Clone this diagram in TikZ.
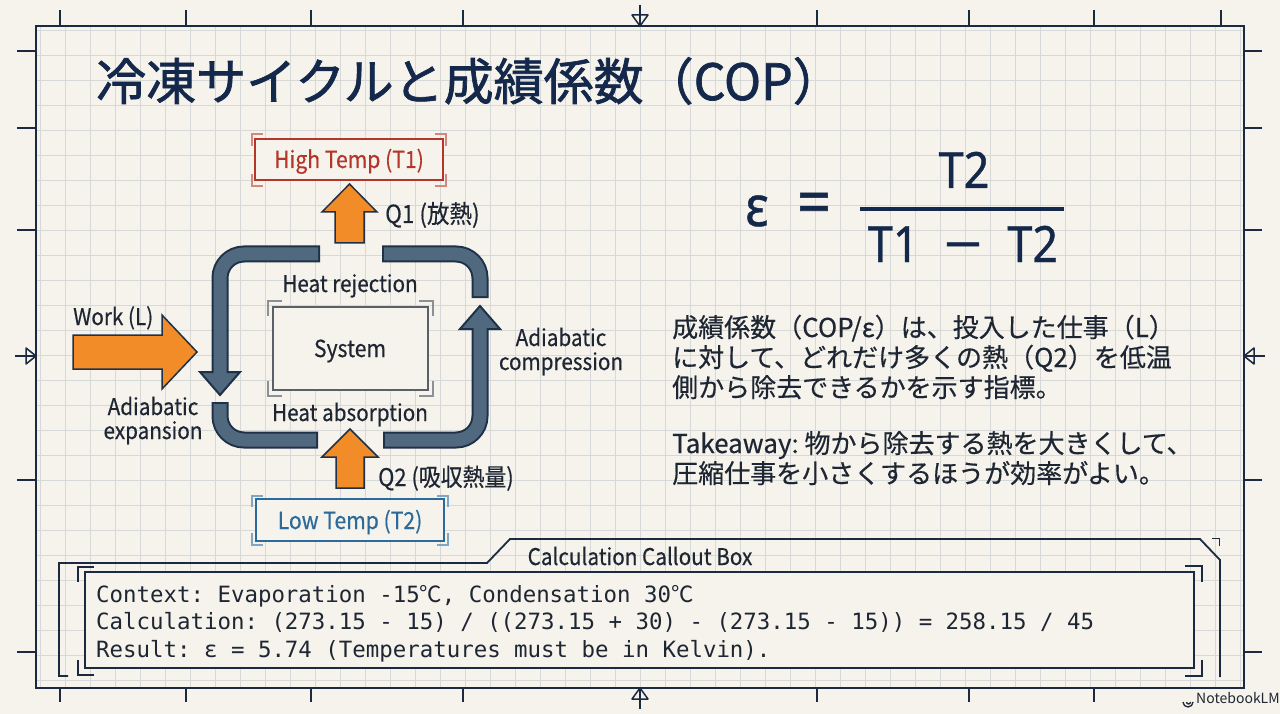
\documentclass[tikz,border=0pt]{standalone}
\usepackage{fontspec}
\setmainfont{Noto Sans CJK JP}
\newfontfamily\cond[FakeStretch=0.9,FakeBold=0.4]{Noto Sans CJK JP}
\newfontfamily\titlefont[FakeBold=1.4]{Noto Sans CJK JP}
\newfontfamily\parafont[FakeBold=0.4]{Noto Sans CJK JP}
\newfontfamily\mono{DejaVu Sans Mono}
\newfontfamily\jp{Noto Sans CJK JP}
\newfontfamily\formula[FakeStretch=0.9,FakeBold=0.8]{Noto Sans}
\newcommand{\setfs}[1]{\fontsize{#1}{#1}\selectfont}
\newcommand{\degc}{\makebox[22pt][l]{\jp ℃}}
\frenchspacing
\definecolor{bg}{HTML}{F5F3EB}
\definecolor{gridc}{HTML}{D6D9D7}
\definecolor{navy}{HTML}{1B2A41}
\definecolor{titlec}{HTML}{14284B}
\definecolor{txt}{HTML}{1E2633}
\definecolor{pipe}{HTML}{50697F}
\definecolor{pipedark}{HTML}{1F3148}
\definecolor{orangec}{HTML}{F28C28}
\definecolor{redc}{HTML}{B3362B}
\definecolor{redl}{HTML}{D4877E}
\definecolor{bluec}{HTML}{2C6A9A}
\definecolor{bluel}{HTML}{7FA6C6}
\definecolor{sysgray}{HTML}{5A6068}
\definecolor{sysl}{HTML}{8A9096}
\begin{document}
\frenchspacing
\begin{tikzpicture}[x=1pt,y=-1pt,
  lbl/.style={inner sep=0, text=txt, font=\cond\setfs{23}},
  para/.style={inner sep=0, anchor=base west, text=txt, font=\parafont\setfs{26}},
  monoline/.style={inner sep=0, anchor=base west, text=txt, font=\mono\frenchspacing\setfs{22.4}},
  framel/.style={navy, line width=1.5pt},
  pipeout/.style={draw=pipedark, line width=17pt},
  pipein/.style={draw=pipe, line width=13pt},
  pipehead/.style={fill=pipe, draw=pipedark, line width=2pt, line join=miter},
  blockarrow/.style={fill=orangec, draw=pipedark, line width=1.5pt, line join=miter},
  brk/.style={line width=1.2pt}]
\useasboundingbox (0,0) rectangle (1280,714);
\fill[bg] (0,0) rectangle (1280,714);
% grid
\foreach \x in {40,65,...,1240} \draw[gridc, line width=0.9pt] (\x,26) -- (\x,688);
\foreach \y in {30,55,...,680} \draw[gridc, line width=0.9pt] (36,\y) -- (1244,\y);
% frame
\draw[framel] (36,26) rectangle (1244,688);
\foreach \x in {60,186,311,463,817,969,1094,1221} \draw[framel] (\x,10) -- (\x,26);
\foreach \x in {60,186,311,463,817,969,1094} \draw[framel] (\x,688) -- (\x,702);
\foreach \y in {51,128,230,480,652} {\draw[framel] (17,\y) -- (36,\y); \draw[framel] (1244,\y) -- (1262,\y);}
% centre marks
\draw[framel] (640,5) -- (640,26); \draw[framel, line join=round] (632,15) -- (648,15) -- (640,26) -- cycle;
\draw[framel] (640,688) -- (640,709); \draw[framel, line join=round] (632,699) -- (648,699) -- (640,688) -- cycle;
\draw[framel] (15,356) -- (36,356); \draw[framel, line join=round] (26,348) -- (26,364) -- (36,356) -- cycle;
\draw[framel] (1244,356) -- (1265,356); \draw[framel, line join=round] (1254,348) -- (1254,364) -- (1244,356) -- cycle;

% title
\node[anchor=base west, inner sep=0, text=titlec, font=\titlefont\setfs{50}] (title) at (96,100) {冷凍サイクルと成績係数（COP）};

% High temp box
\node[draw=redc, line width=2pt, fill=bg, minimum width=188pt, minimum height=41pt, inner sep=0] (high) at (349,160) {};
\node[lbl, anchor=base, text=redc, font=\cond\setfs{23.5}] (hightxt) at (349,168) {High Temp (T1)};
\draw[redl, brk] (252,146) -- (252,134) -- (263,134);
\draw[redl, brk] (446,146) -- (446,134) -- (435,134);
\draw[redl, brk] (252,174) -- (252,186) -- (263,186);
\draw[redl, brk] (446,174) -- (446,186) -- (435,186);

% Low temp box
\node[draw=bluec, line width=2pt, fill=bg, minimum width=188pt, minimum height=42pt, inner sep=0] (low) at (350,520) {};
\node[lbl, anchor=base, text=bluec, font=\cond\setfs{23.5}] (lowtxt) at (350,529) {Low Temp (T2)};
\draw[bluel, brk] (252,507) -- (252,496) -- (263,496);
\draw[bluel, brk] (448,507) -- (448,496) -- (437,496);
\draw[bluel, brk] (252,533) -- (252,545) -- (263,545);
\draw[bluel, brk] (448,533) -- (448,545) -- (437,545);

% System box
\node[draw=sysgray, line width=1.5pt, fill=bg, minimum width=155pt, minimum height=83pt, inner sep=0] (sys) at (350.5,348.5) {};
\node[lbl, anchor=base, font=\cond\setfs{23.5}] (systxt) at (350,357) {System};
\draw[sysl, brk] (268,316) -- (268,301) -- (282,301);
\draw[sysl, brk] (433,316) -- (433,301) -- (419,301);
\draw[sysl, brk] (268,381) -- (268,396) -- (282,396);
\draw[sysl, brk] (433,381) -- (433,396) -- (419,396);
\node[lbl, anchor=base] (rej) at (350,292) {Heat rejection};
\node[lbl, anchor=base] (abs) at (350,421) {Heat absorption};

% pipes
\coordinate (p1a) at (320,254); \coordinate (p1c) at (220,254); \coordinate (p1b) at (220,372); \coordinate (p1t) at (220,395);
\draw[pipeout, rounded corners=24pt] (p1a) -- (p1c) -- (p1b);
\draw[pipehead] (200,372) -- (240,372) -- (p1t) -- cycle;
\draw[pipein, rounded corners=24pt] (318,254) -- (p1c) -- (220,374);

\coordinate (p2a) at (220,402); \coordinate (p2c) at (220,440); \coordinate (p2b) at (318,440);
\draw[pipeout, rounded corners=24pt] (p2a) -- (p2c) -- (p2b);
\draw[pipein, rounded corners=24pt] (220,404) -- (p2c) -- (316,440);

\coordinate (p3a) at (383,440); \coordinate (p3c) at (480,440); \coordinate (p3b) at (480,329); \coordinate (p3t) at (480,306);
\draw[pipeout, rounded corners=24pt] (p3a) -- (p3c) -- (p3b);
\draw[pipehead] (460,329) -- (500,329) -- (p3t) -- cycle;
\draw[pipein, rounded corners=24pt] (385,440) -- (p3c) -- (480,327);

\coordinate (p4a) at (382,254); \coordinate (p4c) at (480,254); \coordinate (p4b) at (480,298);
\draw[pipeout, rounded corners=24pt] (p4a) -- (p4c) -- (p4b);
\draw[pipein, rounded corners=24pt] (384,254) -- (p4c) -- (480,296);

% orange arrows
\draw[blockarrow] (73,335) -- (162,335) -- (162,315) -- (197,352) -- (162,389) -- (162,369) -- (73,369) -- cycle;
\draw[blockarrow] (335,243) -- (335,212) -- (322,212) -- (349.5,184) -- (377,212) -- (364,212) -- (364,243) -- cycle;
\draw[blockarrow] (336,488) -- (336,457) -- (322,457) -- (350,429) -- (378,457) -- (364,457) -- (364,488) -- cycle;

% labels
\node[lbl, anchor=base west] (work) at (73,325) {Work (L)};
\node[lbl, anchor=base west, font=\cond\setfs{25}] (q1) at (385,223) {Q1 (放熱)};
\node[lbl, anchor=base west, font=\cond\setfs{24.3}] (q2) at (378,486) {Q2 (吸収熱量)};
\node[lbl, anchor=base] (exp1) at (153,415) {Adiabatic};
\node[lbl, anchor=base] (exp2) at (153,439) {expansion};
\node[lbl, anchor=base] (comp1) at (561,346) {Adiabatic};
\node[lbl, anchor=base] (comp2) at (561,370) {compression};

% formula
\node[anchor=base, inner sep=0, text=titlec, font=\formula\setfs{56}] (eps) at (757,226) {ε};
\node[anchor=center, inner sep=0, text=titlec, font=\formula\setfs{66}] (eq) at (814,209) {=};
\node[anchor=base, inner sep=0, text=titlec, font=\formula\setfs{50}] (num) at (964,188) {T2};
\coordinate (barL) at (860,209); \coordinate (barR) at (1064,209);
\draw[titlec, line width=3.5pt] (barL) -- (barR);
\node[anchor=base, inner sep=0, text=titlec, font=\formula\setfs{50}] (den) at (963,262) {T1\hspace{0.5em}\scalebox{1.5}[1]{−}\hspace{0.5em}T2};

% paragraph
\node[para] (l1) at (672,337) {成績係数（COP/ε）は、投入した仕事（L）};
\node[para] (l2) at (672,367) {に対して、どれだけ多くの熱（Q2）を低温};
\node[para] (l3) at (672,397) {側から除去できるかを示す指標。};
\node[para] (l4) at (672,453) {Takeaway: 物から除去する熱を大きくして、};
\node[para] (l5) at (672,483) {圧縮仕事を小さくするほうが効率がよい。};

% callout
\draw[navy, line width=1.8pt] (68,676) -- (59,676) -- (59,563) -- (487,563) -- (510,539) -- (1200,539) -- (1220,560) -- (1220,677);
\draw[navy, line width=1pt] (1212,538) -- (1219,538) -- (1219,546);
\node[draw=navy, line width=2.2pt, fill=bg, minimum width=1109pt, minimum height=96pt, inner sep=0] (calc) at (639.5,620) {};
\draw[navy, brk] (78,582) -- (78,567) -- (94,567);
\draw[navy, brk] (78,660) -- (78,675) -- (94,675);
\draw[navy, brk] (1185,566) -- (1202,566) -- (1202,582);
\draw[navy, brk] (1185,676) -- (1202,676) -- (1202,660);
\node[lbl, anchor=base, font=\cond\setfs{23}] (ctitle) at (640,565) {Calculation Callout Box};
\node[monoline] (m1) at (96,602) {Context: Evaporation -15\degc, Condensation 30\degc};
\node[monoline] (m2) at (96,629.5) {Calculation: (273.15 - 15) / ((273.15 + 30) - (273.15 - 15)) = 258.15 / 45};
\node[monoline] (m3) at (96,657) {Result: ε = 5.74 (Temperatures must be in Kelvin).};

% NotebookLM mark
\draw[txt, line width=1.3pt] (1183,702) arc[start angle=180, end angle=0, radius=5];
\draw[txt, line width=1.3pt] (1186.5,702) arc[start angle=180, end angle=0, radius=2];
\node[anchor=base west, inner sep=0, text=txt, font=\setfs{14}] (nlm) at (1196,703) {NotebookLM};
\end{tikzpicture}
\end{document}
